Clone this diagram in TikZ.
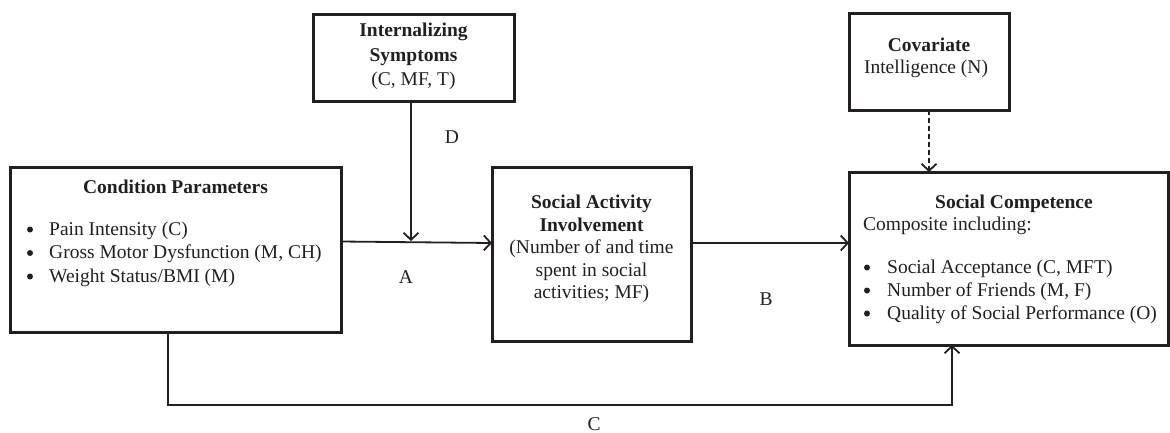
\documentclass[tikz,border=0pt]{standalone}
\usepackage{fontspec}
\setmainfont{Liberation Serif}
\usetikzlibrary{arrows.meta}
\definecolor{ink}{HTML}{231F20}
\begin{document}
\begin{tikzpicture}[x=1pt,y=-1pt,
  box/.style={draw=ink,line width=3pt,inner sep=0pt,outer sep=0pt},
  txt/.style={font=\fontsize{19.5}{23.5}\selectfont,text=ink,inner sep=0pt,anchor=base},
  txtl/.style={txt,anchor=base west},
  bold/.style={txt,font=\fontsize{19.5}{23.5}\selectfont\bfseries},
  bul/.style={circle,fill=ink,inner sep=0pt,minimum size=6pt},
  conn/.style={draw=ink,line width=1.8pt},
  arr/.style={conn,-{Straight Barb[length=7pt,width=15pt]}}]
\useasboundingbox (0,0) rectangle (1170,432);
% boxes
\node[box,minimum width=331pt,minimum height=165pt] (cond) at (175.5,249.5) {};
\node[box,minimum width=201pt,minimum height=87pt] (intl) at (413.5,57.5) {};
\node[box,minimum width=199pt,minimum height=174pt] (sai) at (591.5,254) {};
\node[box,minimum width=160pt,minimum height=97pt] (cov) at (929,61.5) {};
\node[box,minimum width=319pt,minimum height=173pt] (sc) at (1008.5,258.5) {};
% condition parameters text
\node[bold] (condT) at (175.5,193) {Condition Parameters};
\node[bul] (cb1) at (30,229.5) {};
\node[bul] (cb2) at (30,253) {};
\node[bul] (cb3) at (30,276.5) {};
\node[txtl] (c1) at (49,235) {Pain Intensity (C)};
\node[txtl] (c2) at (49,258.5) {Gross Motor Dysfunction (M, CH)};
\node[txtl] (c3) at (49,282) {Weight Status/BMI (M)};
% internalizing
\node[bold] (i1) at (413.5,36.5) {Internalizing};
\node[bold] (i2) at (413.5,61) {Symptoms};
\node[txt] (i3) at (413.5,85.5) {(C, MF, T)};
% social activity
\node[bold] (s1) at (591.5,208) {Social Activity};
\node[bold] (s2) at (591.5,231) {Involvement};
\node[txt] (s3) at (591.5,253.5) {(Number of and time};
\node[txt] (s4) at (591.5,276) {spent in social};
\node[txt] (s5) at (591.5,298.5) {activities; MF)};
% covariate
\node[bold] (v1) at (929,51) {Covariate};
\node[txt] (v2) at (926,73.5) {Intelligence (N)};
% social competence
\node[bold] (sc1) at (1014,208) {Social Competence};
\node[txtl] (sc2) at (863,230) {Composite including:};
\node[bul] (sb1) at (867,267.5) {};
\node[bul] (sb2) at (867,290.5) {};
\node[bul] (sb3) at (867,313.5) {};
\node[txtl] (sc3) at (887,273) {Social Acceptance (C, MFT)};
\node[txtl] (sc4) at (887,296) {Number of Friends (M, F)};
\node[txtl] (sc5) at (887,319) {Quality of Social Performance (O)};
% path labels
\node[txt,anchor=center] (la) at (406,277) {A};
\node[txt,anchor=center] (lb) at (766,299) {B};
\node[txt,anchor=center] (ld) at (452,137) {D};
\node[txt] (lc) at (594,430) {C};
% connector coordinates
\coordinate (aS) at (341,241.5);
\coordinate (aE) at (492,243);
\coordinate (dE) at (411,241);
\coordinate (bS) at (691,243);
\coordinate (bE) at (849,243);
\coordinate (cS) at (168,332);
\coordinate (cM1) at (168,405);
\coordinate (cM2) at (952,405);
\coordinate (cE) at (952,345);
% connectors
\draw[arr] (aS) -- (aE);
\draw[arr] (intl.south -| dE) -- (dE);
\draw[arr] (bS) -- (bE);
\draw[arr,dashed,dash pattern=on 5pt off 3pt] (cov.south) -- (sc.north -| cov.south);
\draw[arr,line join=miter] (cS) -- (cM1) -- (cM2) -- (cE);
\end{tikzpicture}
\end{document}
